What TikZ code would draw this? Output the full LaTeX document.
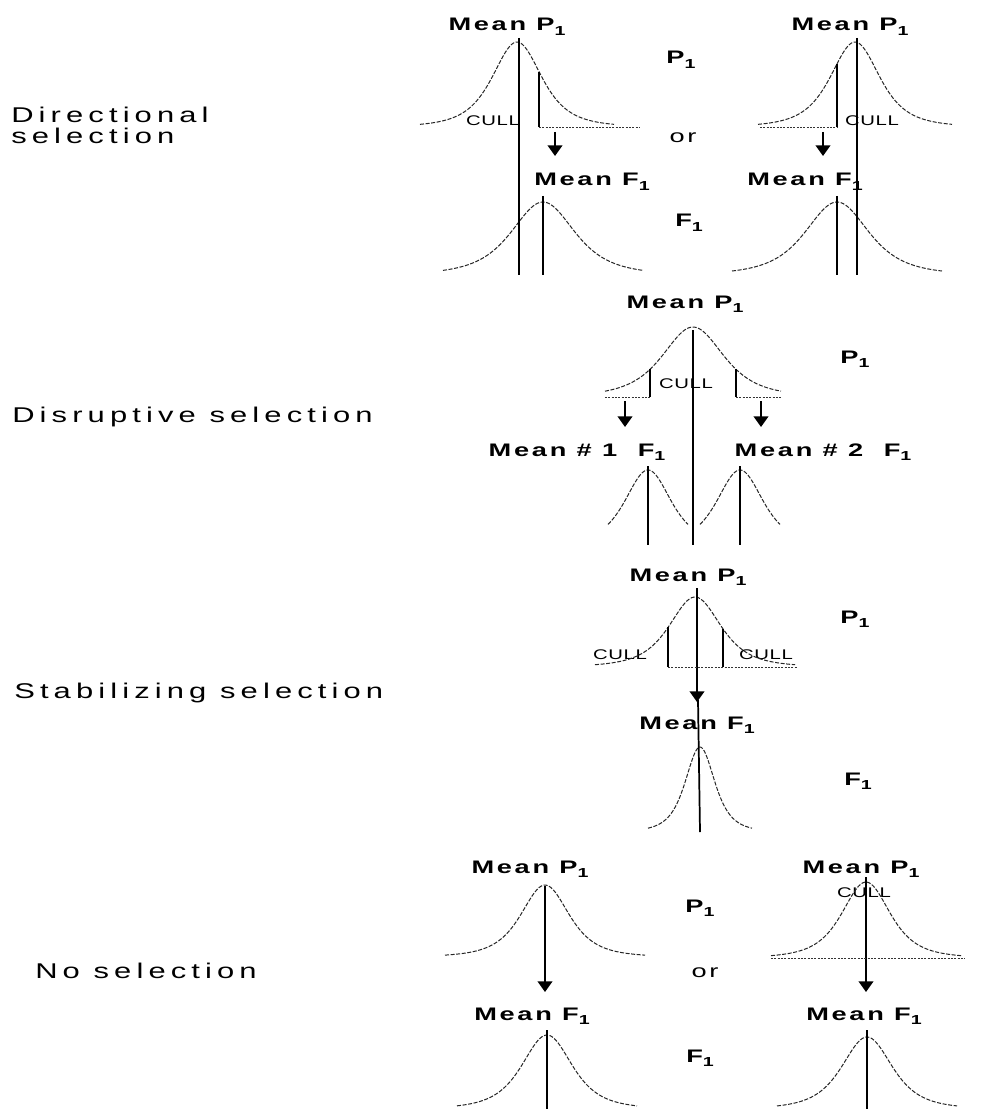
\documentclass[tikz,border=0pt]{standalone}
\usepackage{graphicx}
\usepackage{fontspec}
\setmainfont{Liberation Sans}
\newfontfamily\labfont[FakeStretch=1.45,LetterSpace=24]{Liberation Sans}
\newfontfamily\mnfont[FakeStretch=1.5,LetterSpace=15]{Liberation Sans}
\newfontfamily\cullfont[FakeStretch=1.45,LetterSpace=5]{Liberation Sans}
\usetikzlibrary{arrows.meta}
\newcommand{\lo}[1]{\raisebox{-0.45ex}{\scalebox{0.72}{#1}}}
% bell curve: centre x, base y, height, width parameter, half domain
\newcommand{\bellcurve}[5]{\draw[curve] plot[domain=-#5:#5,samples=90,smooth] ({#1+(\x)},{#2-#3/((1+((\x)/#4)^2)^2)});}
\tikzset{
  lab/.style={font=\labfont\fontsize{16}{15.5}\selectfont, inner sep=0pt, anchor=base west},
  mn/.style={font=\mnfont\bfseries\fontsize{13.6}{15}\selectfont, inner sep=0pt, anchor=base},
  mid/.style={font=\mnfont\fontsize{13.6}{15}\selectfont, inner sep=0pt, anchor=base},
  cull/.style={font=\cullfont\fontsize{10.5}{11}\selectfont, inner sep=0pt, anchor=base},
  curve/.style={line width=0.75pt, black!85, dash pattern=on 3pt off 1.2pt},
  meanline/.style={line width=1.3pt},
  sel/.style={line width=1.4pt, -{Triangle[width=11pt,length=8pt]}},
  baseln/.style={line width=0.6pt, black!80, dash pattern=on 1.5pt off 1pt}
}
\begin{document}
\begin{tikzpicture}[x=0.75pt,y=-0.75pt]
\fill[white] (0,0) rectangle (998,1109);
\useasboundingbox (0,0) rectangle (998,1109);

% ---------------- Left labels ----------------
\node[lab, anchor=north west, align=left] (ldir) at (11,107) {Directional\\selection};
\node[lab] (ldis) at (12,422) {Disruptive selection};
\node[lab] (lsta) at (14,698) {Stabilizing selection};
\node[lab] (lno) at (35,978) {No selection};

% ---------------- Directional ----------------
\node[mn] (dLmp) at (507,31) {Mean P\lo{1}};
\node[mn] (dRmp) at (850,31) {Mean P\lo{1}};
\node[mn] (dP) at (681,64) {P\lo{1}};
\node[mid] (dor) at (683,143) {or};
\node[mn] (dLmf) at (592,186) {Mean F\lo{1}};
\node[mn] (dRmf) at (805,186) {Mean F\lo{1}};
\node[mn] (dF) at (689,227) {F\lo{1}};
\node[cull] (dLcull) at (493,126) {CULL};
\node[cull] (dRcull) at (872,126) {CULL};

% left
\bellcurve{517}{127}{85}{45}{97}
\bellcurve{543}{275}{73}{58}{100}
\coordinate (dLm1) at (519,38); \coordinate (dLm2) at (519,275);
\draw[meanline] (dLm1) -- (dLm2);
\coordinate (dLc1) at (539,{127-85/((1+(22/45)^2)^2)}); \coordinate (dLc2) at (539,127);
\draw[meanline] (dLc1) -- (dLc2);
\coordinate (dLb) at (640,127);
\draw[baseln] (dLc2) -- (dLb);
\coordinate (dLa1) at (555,132); \coordinate (dLa2) at (555,156);
\draw[sel] (dLa1) -- (dLa2);
\coordinate (dLf1) at (543,196); \coordinate (dLf2) at (543,275);
\draw[meanline] (dLf1) -- (dLf2);

% right
\bellcurve{855}{127}{85}{45}{97}
\bellcurve{837}{275}{73}{58}{105}
\coordinate (dRm1) at (857,38); \coordinate (dRm2) at (857,275);
\draw[meanline] (dRm1) -- (dRm2);
\coordinate (dRc1) at (837,{127-85/((1+(18/45)^2)^2)}); \coordinate (dRc2) at (837,127);
\draw[meanline] (dRc1) -- (dRc2);
\coordinate (dRb) at (760,127);
\draw[baseln] (dRb) -- (dRc2);
\coordinate (dRa1) at (823,132); \coordinate (dRa2) at (823,156);
\draw[sel] (dRa1) -- (dRa2);
\coordinate (dRf1) at (837,196); \coordinate (dRf2) at (837,275);
\draw[meanline] (dRf1) -- (dRf2);

% ---------------- Disruptive ----------------
\node[mn] (smp) at (685,308) {Mean P\lo{1}};
\node[mn] (sP) at (855,363) {P\lo{1}};
\node[mn] (smf1) at (577,456) {Mean \# 1~~F\lo{1}};
\node[mn] (smf2) at (823,456) {Mean \# 2~~F\lo{1}};
\node[cull] (scull) at (686,388) {CULL};
\bellcurve{693}{397}{70}{56}{88}
\bellcurve{648}{545}{75}{42}{40}
\bellcurve{740}{545}{75}{42}{40}
\coordinate (sm1) at (693,330); \coordinate (sm2) at (693,545);
\draw[meanline] (sm1) -- (sm2);
\coordinate (scL1) at (650,{397-70/((1+(43/56)^2)^2)}); \coordinate (scL2) at (650,397);
\coordinate (scR1) at (736,{397-70/((1+(43/56)^2)^2)}); \coordinate (scR2) at (736,397);
\draw[meanline] (scL1) -- (scL2);
\draw[meanline] (scR1) -- (scR2);
\coordinate (sbL) at (605,397); \coordinate (sbR) at (781,397);
\draw[baseln] (sbL) -- (scL2);
\draw[baseln] (scR2) -- (sbR);
\coordinate (saL1) at (625,401); \coordinate (saL2) at (625,427);
\coordinate (saR1) at (761,401); \coordinate (saR2) at (761,427);
\draw[sel] (saL1) -- (saL2);
\draw[sel] (saR1) -- (saR2);
\coordinate (sfL1) at (648,466); \coordinate (sfL2) at (648,545);
\coordinate (sfR1) at (740,466); \coordinate (sfR2) at (740,545);
\draw[meanline] (sfL1) -- (sfL2);
\draw[meanline] (sfR1) -- (sfR2);

% ---------------- Stabilizing ----------------
\node[mn] (tmp) at (688,581) {Mean P\lo{1}};
\node[mn] (tP) at (855,623) {P\lo{1}};
\node[mn] (tmf) at (697,729) {Mean F\lo{1}};
\node[mn] (tF) at (858,785) {F\lo{1}};
\node[cull] (tcullL) at (620,659) {CULL};
\node[cull] (tcullR) at (766,659) {CULL};
\bellcurve{695}{667}{70}{47}{100}
\bellcurve{700}{832}{85}{27}{52}
\coordinate (tm1) at (697,588); \coordinate (tm2) at (697,702);
\draw[sel] (tm1) -- (tm2);
\coordinate (tf1) at (698,700); \coordinate (tf2) at (700,832);
\draw[meanline] (tf1) -- (tf2);
\coordinate (tcL1) at (668,{667-70/((1+(27/47)^2)^2)}); \coordinate (tcL2) at (668,667);
\coordinate (tcR1) at (723,{667-70/((1+(28/47)^2)^2)}); \coordinate (tcR2) at (723,667);
\draw[meanline] (tcL1) -- (tcL2);
\draw[meanline] (tcR1) -- (tcR2);
\coordinate (tbR) at (797,667);
\draw[baseln] (tcL2) -- (tbR);

% ---------------- No selection ----------------
\node[mn] (nLmp) at (530,873) {Mean P\lo{1}};
\node[mn] (nRmp) at (861,873) {Mean P\lo{1}};
\node[mn] (nP) at (700,912) {P\lo{1}};
\node[mid] (nor) at (705,977) {or};
\node[mn] (nLmf) at (532,1020) {Mean F\lo{1}};
\node[mn] (nRmf) at (864,1020) {Mean F\lo{1}};
\node[mn] (nF) at (700,1062) {F\lo{1}};
\node[cull] (ncull) at (864,897) {CULL};
\bellcurve{545}{957}{72}{44}{100}
\bellcurve{866}{958}{76}{44}{95}
\bellcurve{547}{1109}{74}{46}{90}
\bellcurve{867}{1109}{72}{46}{90}
\coordinate (nLa1) at (545,886); \coordinate (nLa2) at (545,992);
\draw[sel] (nLa1) -- (nLa2);
\coordinate (nRa1) at (866,877); \coordinate (nRa2) at (866,992);
\draw[sel] (nRa1) -- (nRa2);
\coordinate (nRb1) at (771,958); \coordinate (nRb2) at (965,958);
\draw[baseln] (nRb1) -- (nRb2);
\coordinate (nLf1) at (547,1030); \coordinate (nLf2) at (547,1109);
\coordinate (nRf1) at (867,1030); \coordinate (nRf2) at (867,1109);
\draw[meanline] (nLf1) -- (nLf2);
\draw[meanline] (nRf1) -- (nRf2);
\end{tikzpicture}
\end{document}
